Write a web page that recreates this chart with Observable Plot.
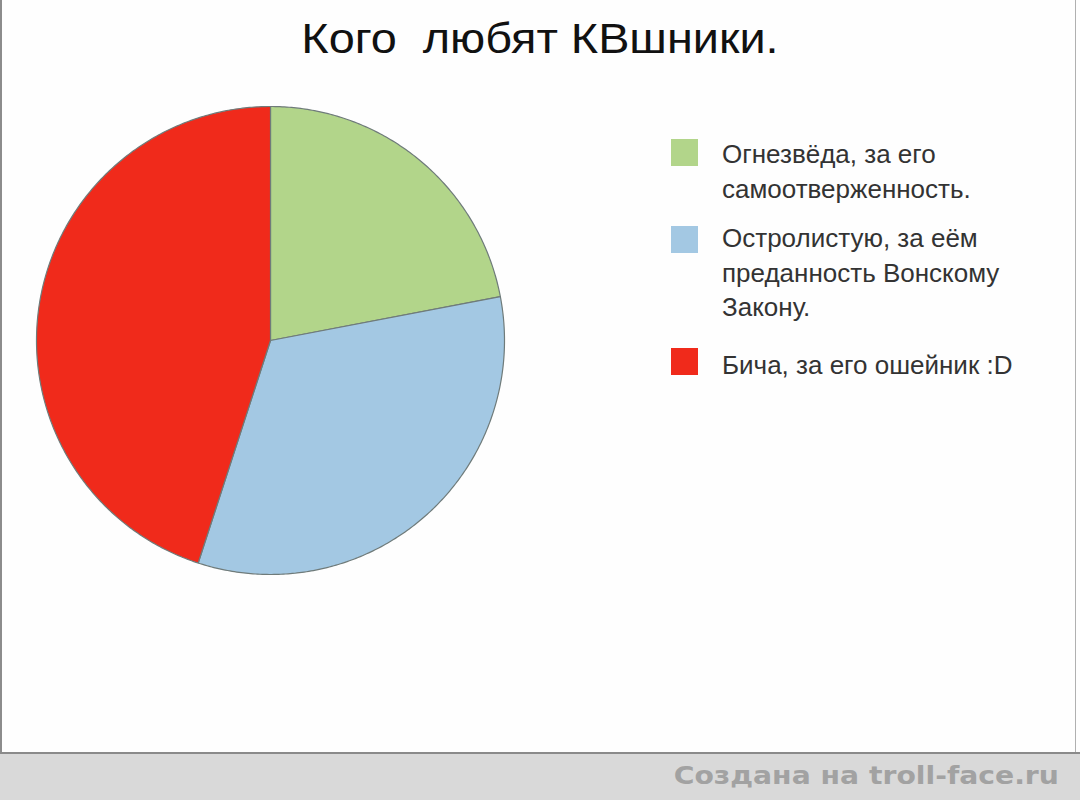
<!DOCTYPE html>
<html>
<head>
<meta charset="utf-8">
<script src="https://cdn.jsdelivr.net/npm/d3@7"></script>
<script src="https://cdn.jsdelivr.net/npm/@observablehq/plot@0.6"></script>
<style>
  html, body { margin: 0; padding: 0; background: #ffffff; }
  #page { position: relative; width: 1080px; height: 800px; overflow: hidden; background: #fefefe; font-family: "Liberation Sans", Arial, sans-serif; }
  #frame { position: absolute; left: 0; top: 0; width: 1073px; height: 752px; border-left: 2px solid #8c8c8c; border-right: 1px solid #b0b0b0; box-sizing: content-box; }
  #title { position: absolute; left: 0; width: 1080px; top: 14px; text-align: center; font-size: 42px; line-height: 50px; color: #111; white-space: pre; transform: scaleX(1.115); transform-origin: 540px 0; }
  #chart { position: absolute; left: 0; top: 100px; }
  .entry { position: absolute; left: 671px; }
  .sw { position: absolute; left: 0; width: 27px; height: 27px; }
  .txt { position: absolute; left: 51px; top: 0; font-size: 26px; line-height: 34.5px; color: #333; white-space: nowrap; }
  #footer { position: absolute; left: 0; top: 752px; width: 1080px; height: 48px; background: #d9d9d9; border-top: 2px solid #8a8a8a; box-sizing: border-box; }
  #footer span { position: absolute; right: 21px; top: 6px; font-family: "DejaVu Sans", Verdana, sans-serif; font-weight: bold; font-size: 25px; line-height: 32px; color: #a2a2a2; transform: scaleX(1.13); transform-origin: right center; }
</style>
</head>
<body>
<div id="page">
  <div id="frame"></div>
  <div id="title"></div>
  <div id="chart"></div>
  <div id="legend"></div>
  <div id="footer"><span id="credit"></span></div>
</div>
<script>
// ---- data ----
const titleText = "Кого  любят КВшники.";
const categories = [
  "Огнезвёзда, за его самоотверженность.",
  "Остролистую, за еём преданность Вонскому Закону.",
  "Бича, за его ошейник :D"
];
const legendLines = [
  ["Огнезвёда, за его", "самоотверженность."],
  ["Остролистую, за еём", "преданность Вонскому", "Закону."],
  ["Бича, за его ошейник :D"]
];
const values = [22, 33, 45];
const colors = ["#b2d58a", "#a3c8e3", "#f02a1b"];
const creditText = "Создана на troll-face.ru";

// ---- build pie geometry with d3.pie ----
const arcs = d3.pie().sort(null).value(d => d)(values);
const rows = [];
arcs.forEach((a, i) => {
  const n = Math.max(4, Math.ceil((a.endAngle - a.startAngle) / 0.01));
  rows.push({cat: categories[i], x: 0, y: 0});
  for (let k = 0; k <= n; k++) {
    const t = a.startAngle + (a.endAngle - a.startAngle) * k / n;
    rows.push({cat: categories[i], x: Math.sin(t), y: Math.cos(t)});
  }
});

const R = 234, cx = 270, cy = 240;
const plot = Plot.plot({
  width: 540,
  height: 480,
  margin: 0,
  x: {domain: [-1, 1], range: [cx - R, cx + R], axis: null},
  y: {domain: [-1, 1], range: [cy + R, cy - R], axis: null},
  color: {domain: categories, range: colors},
  marks: [
    Plot.line(rows, {x: "x", y: "y", z: "cat", fill: "cat", stroke: "#6f7b7a", strokeWidth: 1.2, curve: "linear-closed"})
  ]
});
document.getElementById("chart").appendChild(plot);

document.getElementById("title").textContent = titleText;
document.getElementById("credit").textContent = creditText;

const tops = [137, 221, 348];
const swTops = [2, 5, 0];
const legend = document.getElementById("legend");
legendLines.forEach((lines, i) => {
  const e = document.createElement("div");
  e.className = "entry";
  e.style.top = tops[i] + "px";
  const sw = document.createElement("div");
  sw.className = "sw";
  sw.style.top = swTops[i] + "px";
  sw.style.background = colors[i];
  const tx = document.createElement("div");
  tx.className = "txt";
  tx.innerHTML = lines.map(l => l.replace(/&/g, "&amp;").replace(/</g, "&lt;")).join("<br>");
  e.appendChild(sw);
  e.appendChild(tx);
  legend.appendChild(e);
});
</script>
</body>
</html>
